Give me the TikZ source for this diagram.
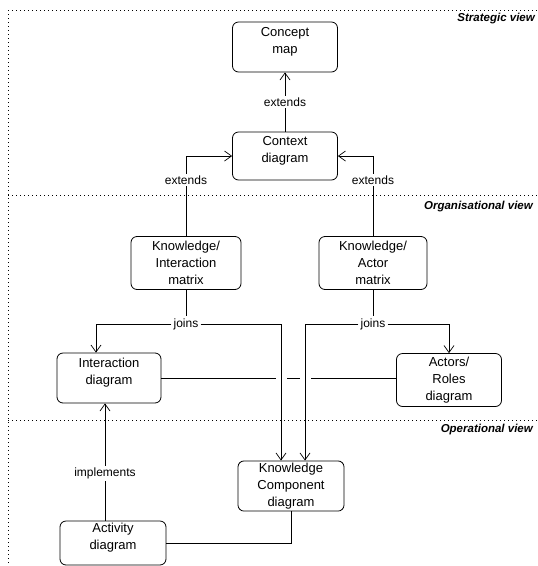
\documentclass[tikz,border=0pt]{standalone}
\usepackage{fontspec}
\setmainfont{Liberation Sans}
\usepackage{tikz}
\usetikzlibrary{arrows.meta}
\tikzset{
  viewbox/.style={draw,line width=0.8pt,rounded corners=6pt,fill=white,align=center,
    minimum width=105pt,minimum height=50pt,inner sep=2pt,
    font=\fontsize{13}{17}\selectfont},
  twoline/.style={text depth=13pt},
  rel/.style={line width=0.7pt},
  relarrow/.style={rel,-{Straight Barb[length=7pt,width=10pt,line width=0.7pt]}},
  rellabel/.style={fill=white,inner sep=2pt,font=\fontsize{12}{14}\selectfont},
  hop/.style={preaction={draw=white,line width=11pt,shorten >=12pt,-}},
  viewsep/.style={line width=0.8pt,dash pattern=on 0.8pt off 3.2pt},
  viewname/.style={anchor=north east,inner sep=0pt,
    font=\fontsize{11.5}{13}\selectfont\bfseries\itshape}
}

\begin{document}
\begin{tikzpicture}[x=1pt,y=-1pt]
  \useasboundingbox (0,0) rectangle (538,566);

  \node[viewbox,twoline] (concept) at (285,47) {Concept\\map};
  \node[viewbox,twoline,minimum height=48pt] (context) at (285,156) {Context\\diagram};
  \node[viewbox,minimum width=110pt,minimum height=53pt] (kimatrix) at (186,263)
        {Knowledge/\\Interaction\\matrix};
  \node[viewbox,minimum width=108pt,minimum height=53pt] (kamatrix) at (373,263)
        {Knowledge/\\Actor\\matrix};
  \node[viewbox,twoline,minimum width=104pt] (interdiag) at (109,378) {Interaction\\diagram};
  \node[viewbox,minimum height=53pt] (actors) at (449,380) {Actors/\\Roles\\diagram};
  \node[viewbox,minimum width=106pt] (kcomp) at (291,486)
        {Knowledge\\Component\\diagram};
  \node[viewbox,twoline,minimum width=106pt,minimum height=44pt] (activity) at (113,543)
        {Activity\\diagram};

  \node[rellabel] (joinsI) at (186,324) {joins};
  \node[rellabel] (joinsA) at (373,324) {joins};

  \draw[relarrow] (context) -- node[rellabel]{extends} (concept);
  \draw[relarrow] (kimatrix.north) |- node[rellabel,pos=0.35]{extends} (context.west);
  \draw[relarrow] (kamatrix.north) |- node[rellabel,pos=0.35]{extends} (context.east);

  \draw[rel] (interdiag.east) -- (interdiag.east -| actors.west);

  \draw[rel] (kimatrix) -- (joinsI);
  \draw[relarrow] (joinsI.west) -| ([xshift=-13pt]interdiag.north);
  \draw[relarrow,hop] (joinsI.east) -| ([xshift=-10pt]kcomp.north);
  \draw[rel] (kamatrix) -- (joinsA);
  \draw[relarrow,hop] (joinsA.west) -| ([xshift=14pt]kcomp.north);
  \draw[relarrow] (joinsA.east) -| (actors.north);

  \draw[relarrow] ([xshift=-8pt]activity.north) -- node[rellabel,pos=0.4]{implements}
        ([xshift=-8pt]activity.north |- interdiag.south);
  \draw[rel] (kcomp.south) |- (activity.east);

  \foreach \y in {10,195,420}
    \draw[viewsep] (8,\y) -- (538,\y);
  \draw[viewsep] (8,10) -- (8,566);

  \node[viewname] (strategic) at (535,13) {Strategic view};
  \node[viewname] (organisational) at (533,201) {Organisational view};
  \node[viewname] (operational) at (533,424) {Operational view};
\end{tikzpicture}
\end{document}
